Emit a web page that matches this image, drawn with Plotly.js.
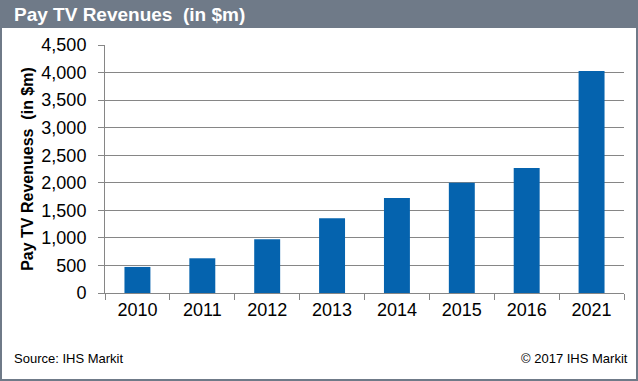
<!DOCTYPE html>
<html>
<head>
<meta charset="utf-8">
<script src="https://cdn.plot.ly/plotly-3.0.1.min.js"></script>
<style>html,body{margin:0;padding:0;background:#fff;}#chart{width:638px;height:381px;}</style>
</head>
<body>
<div id="chart"></div>
<script>
const years = ["2010", "2011", "2012", "2013", "2014", "2015", "2016", "2021"];
const revenues = [473, 630, 975, 1358, 1722, 2000, 2267, 4030];
const yTickValues = [0, 500, 1000, 1500, 2000, 2500, 3000, 3500, 4000, 4500];

const W = 638, H = 381;
const M = {l: 105, r: 14, t: 45, b: 88};
const pw = W - M.l - M.r, ph = H - M.t - M.b;
const px = x => (x - M.l) / pw;
const py = y => (H - M.b - y) / ph;

const FONT = "Liberation Sans, Arial, sans-serif";
const GREY = "#6f7a88";
const GRID = "#868686";

const data = [{
  type: "bar",
  x: years,
  y: revenues,
  marker: {color: "#0563AE"},
  hoverinfo: "x+y"
}];

const layout = {
  width: W, height: H,
  margin: M,
  paper_bgcolor: "#ffffff",
  plot_bgcolor: "#ffffff",
  showlegend: false,
  bargap: 0.6,
  font: {family: FONT, color: "#000"},
  xaxis: {
    type: "category",
    showline: true, linecolor: GRID, linewidth: 1,
    ticks: "outside", tickson: "boundaries", ticklen: 6, tickcolor: GRID,
    tickfont: {size: 18, family: FONT, color: "#000"},
    showgrid: false, zeroline: false, fixedrange: true
  },
  yaxis: {
    range: [0, 4500],
    tickvals: yTickValues,
    tickformat: ",",
    showline: true, linecolor: GRID, linewidth: 1,
    ticks: "outside", ticklen: 6, tickcolor: GRID,
    ticklabelstandoff: 8,
    tickfont: {size: 18, family: FONT, color: "#000"},
    showgrid: true, gridcolor: GRID, gridwidth: 1,
    zeroline: false, fixedrange: true,
    title: {text: "Pay TV Revenuess  (in $m)", font: {size: 16, family: FONT, color: "#000", weight: "bold"}, standoff: 3}
  },
  shapes: [
    {type: "rect", xref: "paper", yref: "paper", x0: px(0), x1: px(W), y0: py(28), y1: py(0), fillcolor: GREY, line: {width: 0}, layer: "above"},
    {type: "rect", xref: "paper", yref: "paper", x0: px(1), x1: px(W - 1), y0: py(H - 1), y1: py(1), fillcolor: "rgba(0,0,0,0)", line: {color: GREY, width: 2}, layer: "above"}
  ],
  annotations: [
    {text: "<b>Pay TV Revenues  (in $m)</b>", xref: "paper", yref: "paper", x: px(12), y: py(14), xanchor: "left", yanchor: "middle", showarrow: false, font: {size: 19, family: FONT, color: "#ffffff"}},
    {text: "Source: IHS Markit", xref: "paper", yref: "paper", x: px(12), y: py(358), xanchor: "left", yanchor: "middle", showarrow: false, font: {size: 13, family: FONT, color: "#000"}},
    {text: "© 2017 IHS Markit", xref: "paper", yref: "paper", x: px(630), y: py(358), xanchor: "right", yanchor: "middle", showarrow: false, font: {size: 13, family: FONT, color: "#000"}}
  ]
};

Plotly.newPlot("chart", data, layout, {displayModeBar: false, staticPlot: true});
</script>
</body>
</html>
